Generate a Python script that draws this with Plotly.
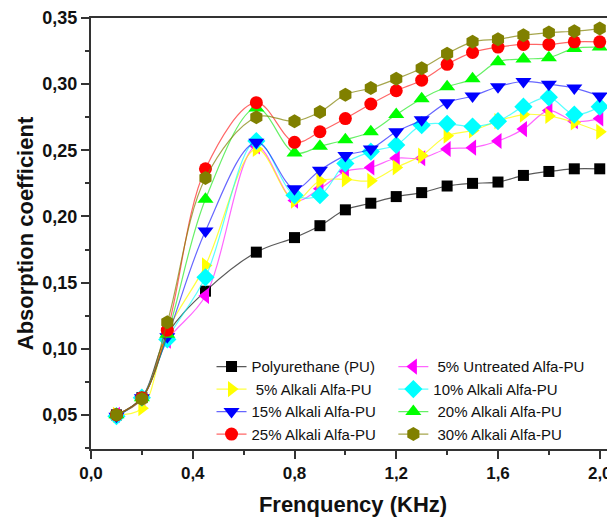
import plotly.graph_objects as go

freq = [0.1, 0.2, 0.3, 0.45, 0.65, 0.8, 0.9, 1.0, 1.1, 1.2, 1.3, 1.4, 1.5, 1.6, 1.7, 1.8, 1.9, 2.0]

pu = [0.050, 0.063, 0.111, 0.1435, 0.173, 0.184, 0.193, 0.205, 0.210, 0.215, 0.218, 0.223, 0.225, 0.226, 0.231, 0.234, 0.236, 0.236]
untreated5 = [0.050, 0.062, 0.106, 0.140, 0.253, 0.212, 0.221, 0.234, 0.237, 0.244, 0.244, 0.251, 0.252, 0.257, 0.266, 0.280, 0.272, 0.274]
alkali5 = [0.050, 0.055, 0.113, 0.163, 0.251, 0.212, 0.227, 0.228, 0.227, 0.237, 0.246, 0.261, 0.265, 0.272, 0.277, 0.276, 0.271, 0.264]
alkali10 = [0.049, 0.063, 0.107, 0.154, 0.257, 0.216, 0.216, 0.240, 0.249, 0.254, 0.269, 0.270, 0.268, 0.272, 0.283, 0.290, 0.277, 0.283]
alkali15 = [0.049, 0.063, 0.109, 0.189, 0.256, 0.221, 0.235, 0.246, 0.251, 0.264, 0.273, 0.286, 0.291, 0.298, 0.302, 0.300, 0.297, 0.291]
alkali20 = [0.050, 0.063, 0.111, 0.213, 0.282, 0.248, 0.253, 0.258, 0.264, 0.277, 0.289, 0.298, 0.304, 0.317, 0.319, 0.320, 0.327, 0.328]
alkali25 = [0.050, 0.063, 0.114, 0.236, 0.286, 0.256, 0.264, 0.274, 0.285, 0.295, 0.303, 0.315, 0.324, 0.328, 0.330, 0.330, 0.332, 0.332]
alkali30 = [0.050, 0.062, 0.120, 0.229, 0.275, 0.272, 0.279, 0.292, 0.297, 0.304, 0.312, 0.323, 0.332, 0.334, 0.337, 0.339, 0.340, 0.342]

names = ["Polyurethane (PU)", " 5% Untreated Alfa-PU", " 5% Alkali Alfa-PU", "10% Alkali Alfa-PU",
         "15% Alkali Alfa-PU", " 20% Alkali Alfa-PU", "25% Alkali Alfa-PU", " 30% Alkali Alfa-PU"]
series = [pu, untreated5, alkali5, alkali10, alkali15, alkali20, alkali25, alkali30]
marker_colors = ["#000000", "#FF00FF", "#FFFF00", "#00FFFF", "#0000FF", "#00FF00", "#FF0000", "#808000"]
line_colors = ["rgba(60,60,60,0.85)", "rgba(255,0,255,0.6)", "rgba(255,255,0,0.75)", "rgba(0,255,255,0.65)",
               "rgba(0,0,255,0.6)", "rgba(0,230,0,0.6)", "rgba(255,0,0,0.6)", "rgba(128,128,0,0.7)"]
symbols = ["square", "triangle-left", "triangle-right", "diamond", "triangle-down", "triangle-up", "circle", "hexagon"]
sizes = [11, 14, 14, 14, 14, 14, 13, 14]

fig = go.Figure()
for i, (name, ys, mc, lc, sym, sz) in enumerate(zip(names, series, marker_colors, line_colors, symbols, sizes)):
    fig.add_trace(go.Scatter(
        x=freq, y=ys, name=name, mode="lines+markers",
        line=dict(color=lc, width=1.2, shape="spline", smoothing=1.0),
        marker=dict(symbol=sym, size=sz, color=mc, line=dict(width=0)),
        legend="legend" if i % 2 == 0 else "legend2",
    ))

font_family = "Liberation Sans, Arial, sans-serif"
legend_style = dict(
    orientation="v", y=0.229, xanchor="left", yanchor="top",
    bgcolor="rgba(0,0,0,0)", borderwidth=0,
    font=dict(family=font_family, size=15, color="#111111"),
    tracegroupgap=0, itemsizing="trace", traceorder="normal",
)

fig.update_layout(
    width=607, height=509,
    margin=dict(l=83, r=0, t=10, b=68),
    paper_bgcolor="white", plot_bgcolor="white",
    separators=", ",
    font=dict(family=font_family, color="#111111"),
    showlegend=True,
    legend=dict(x=0.23, **legend_style),
    legend2=dict(x=0.577, **legend_style),
    xaxis=dict(
        range=[0, 2.06], tickmode="linear", tick0=0, dtick=0.4, tickformat=".1f",
        ticks="outside", ticklen=8, tickwidth=2, tickcolor="#333333",
        minor=dict(ticks="outside", ticklen=4, tickwidth=2, tickcolor="#333333", dtick=0.2, showgrid=False),
        showline=True, linewidth=2, linecolor="#333333", mirror=True,
        showgrid=False, zeroline=False,
        tickfont=dict(family=font_family, size=17, weight="bold", color="#111111"),
        title=dict(text="Frenquency (KHz)", font=dict(family=font_family, size=22, weight="bold", color="#111111"), standoff=18),
    ),
    yaxis=dict(
        range=[0.0242, 0.35], tickmode="linear", tick0=0.05, dtick=0.05, tickformat=".2f",
        ticks="outside", ticklen=8, tickwidth=2, tickcolor="#333333",
        minor=dict(ticks="outside", ticklen=4, tickwidth=2, tickcolor="#333333", dtick=0.025, showgrid=False),
        showline=True, linewidth=2, linecolor="#333333", mirror=False,
        showgrid=False, zeroline=False,
        tickfont=dict(family=font_family, size=18, weight="bold", color="#111111"),
        title=dict(text="Absorption coefficient", font=dict(family=font_family, size=22, weight="bold", color="#111111"), standoff=3),
    ),
)

fig.write_html("out.html")
